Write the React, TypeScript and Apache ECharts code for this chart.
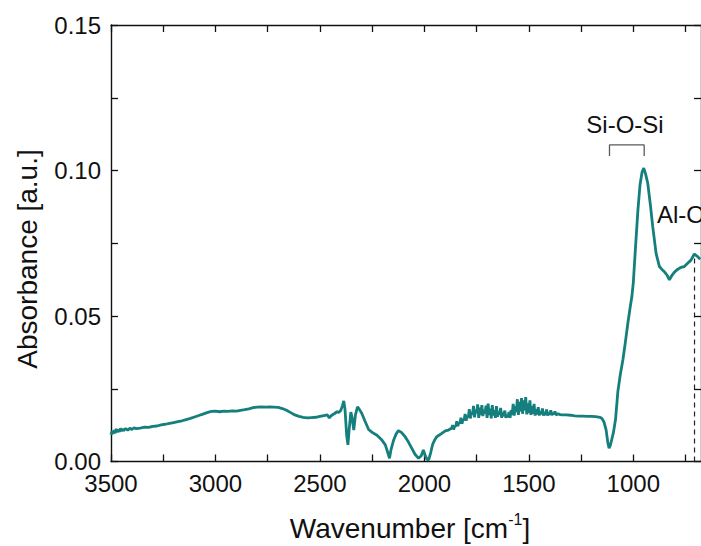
import { useEffect, useRef } from "react";
import * as echarts from "echarts";

// FTIR spectrum points: [wavenumber (cm-1), absorbance (a.u.)]
const spectrum: [number, number][] = [
  [3500, 0.0092], [3495, 0.0104], [3490, 0.0095], [3485, 0.0108], [3480, 0.0097], [3475, 0.0112],
  [3470, 0.0100], [3465, 0.0110], [3460, 0.0102], [3455, 0.0114], [3450, 0.0104], [3445, 0.0112],
  [3440, 0.0106], [3430, 0.0113], [3420, 0.0108], [3410, 0.0114], [3400, 0.0110], [3390, 0.0116],
  [3380, 0.0113], [3360, 0.0115], [3340, 0.0118], [3320, 0.0117], [3300, 0.0121], [3280, 0.0122],
  [3260, 0.0126], [3240, 0.0128], [3220, 0.0131], [3200, 0.0134], [3180, 0.0137], [3160, 0.0140],
  [3140, 0.0144], [3120, 0.0148], [3100, 0.0153], [3080, 0.0158], [3060, 0.0163], [3040, 0.0168],
  [3020, 0.0172], [3000, 0.0173], [2980, 0.0171], [2960, 0.0173], [2940, 0.0172], [2920, 0.0174],
  [2900, 0.0173], [2880, 0.0176], [2860, 0.0178], [2840, 0.0181], [2820, 0.0185], [2800, 0.0187],
  [2780, 0.0188], [2760, 0.0187], [2740, 0.0188], [2720, 0.0187], [2700, 0.0186], [2680, 0.0182],
  [2660, 0.0176], [2640, 0.0168], [2620, 0.0160], [2600, 0.0155], [2580, 0.0152], [2560, 0.0150],
  [2540, 0.0151], [2520, 0.0152], [2500, 0.0155], [2480, 0.0158], [2465, 0.0160], [2455, 0.0150],
  [2445, 0.0158], [2430, 0.0165], [2418, 0.0171], [2410, 0.0168], [2400, 0.0176], [2392, 0.0192],
  [2386, 0.0208], [2380, 0.0180], [2372, 0.0090], [2366, 0.0057], [2360, 0.0110], [2352, 0.0170],
  [2346, 0.0150], [2338, 0.0108], [2330, 0.0160], [2320, 0.0188], [2312, 0.0180], [2300, 0.0166],
  [2285, 0.0140], [2267, 0.0110], [2250, 0.0100], [2227, 0.0090], [2205, 0.0075], [2187, 0.0057],
  [2175, 0.0030], [2167, 0.0011], [2160, 0.0040], [2147, 0.0074], [2135, 0.0095], [2124, 0.0106],
  [2110, 0.0100], [2092, 0.0085], [2075, 0.0065], [2060, 0.0045], [2045, 0.0025], [2028, 0.0011],
  [2015, 0.0020], [2005, 0.0040], [1996, 0.0020], [1988, 0.0008], [1980, 0.0005], [1970, 0.0030],
  [1960, 0.0060], [1950, 0.0075], [1941, 0.0085], [1920, 0.0095], [1900, 0.0105], [1885, 0.0108],
  [1870, 0.0114], [1865, 0.0125], [1860, 0.0110], [1855, 0.0122], [1850, 0.0120], [1845, 0.0138],
  [1840, 0.0122], [1835, 0.0133], [1830, 0.0131], [1825, 0.0150], [1820, 0.0130], [1815, 0.0145],
  [1810, 0.0142], [1805, 0.0163], [1800, 0.0140], [1795, 0.0158], [1790, 0.0150], [1785, 0.0180],
  [1780, 0.0148], [1775, 0.0170], [1770, 0.0160], [1765, 0.0191], [1760, 0.0152], [1755, 0.0178],
  [1750, 0.0166], [1745, 0.0196], [1740, 0.0150], [1735, 0.0185], [1730, 0.0160], [1725, 0.0194],
  [1720, 0.0156], [1715, 0.0178], [1710, 0.0165], [1705, 0.0192], [1700, 0.0150], [1695, 0.0199],
  [1690, 0.0160], [1685, 0.0182], [1680, 0.0148], [1675, 0.0194], [1670, 0.0158], [1665, 0.0176],
  [1660, 0.0150], [1655, 0.0190], [1650, 0.0154], [1645, 0.0172], [1640, 0.0160], [1635, 0.0184],
  [1630, 0.0150], [1625, 0.0168], [1620, 0.0156], [1615, 0.0175], [1610, 0.0150], [1605, 0.0160],
  [1600, 0.0152], [1595, 0.0170], [1590, 0.0150], [1585, 0.0176], [1580, 0.0160], [1575, 0.0198],
  [1570, 0.0158], [1565, 0.0190], [1560, 0.0170], [1555, 0.0214], [1550, 0.0160], [1545, 0.0205],
  [1540, 0.0172], [1535, 0.0218], [1530, 0.0164], [1525, 0.0210], [1520, 0.0176], [1515, 0.0221],
  [1510, 0.0162], [1505, 0.0200], [1500, 0.0166], [1495, 0.0210], [1490, 0.0160], [1485, 0.0190],
  [1480, 0.0164], [1475, 0.0198], [1470, 0.0158], [1465, 0.0180], [1460, 0.0162], [1455, 0.0187],
  [1450, 0.0158], [1445, 0.0172], [1440, 0.0162], [1435, 0.0182], [1430, 0.0158], [1425, 0.0170],
  [1420, 0.0160], [1415, 0.0179], [1410, 0.0158], [1405, 0.0168], [1400, 0.0161], [1395, 0.0176],
  [1390, 0.0159], [1385, 0.0167], [1380, 0.0162], [1375, 0.0172], [1370, 0.0160], [1360, 0.0164],
  [1350, 0.0161], [1340, 0.0160], [1320, 0.0160], [1300, 0.0159], [1280, 0.0157], [1260, 0.0156],
  [1240, 0.0156], [1220, 0.0155], [1200, 0.0155], [1180, 0.0154], [1160, 0.0152], [1150, 0.0148],
  [1140, 0.0135], [1130, 0.0108], [1122, 0.0065], [1116, 0.0046], [1110, 0.0055], [1100, 0.0085],
  [1095, 0.0100], [1085, 0.0145], [1074, 0.0240], [1062, 0.0300], [1050, 0.0349], [1038, 0.0410],
  [1026, 0.0476], [1015, 0.0530], [1007, 0.0566], [1000, 0.0615], [990, 0.0730], [978, 0.0864],
  [968, 0.0950], [958, 0.0995], [950, 0.1008], [942, 0.0990], [931, 0.0957], [918, 0.0880],
  [907, 0.0807], [891, 0.0715], [875, 0.0670], [863, 0.0660], [851, 0.0652], [838, 0.0640],
  [827, 0.0624], [815, 0.0640], [804, 0.0650], [792, 0.0658], [780, 0.0664], [768, 0.0668],
  [756, 0.0670], [740, 0.0681], [724, 0.0692], [708, 0.0713], [692, 0.0704], [680, 0.0695],
];

// Axis ranges and tick positions
const xRange = [676, 3500];
const xTickValues = [3500, 3250, 3000, 2750, 2500, 2250, 2000, 1750, 1500, 1250, 1000, 750];
const xLabelValues = [3500, 3000, 2500, 2000, 1500, 1000];
const yRange = [0, 0.15];
const yTickValues = [0, 0.025, 0.05, 0.075, 0.1, 0.125, 0.15];
const yLabelValues = [0, 0.05, 0.1, 0.15];

// Band annotations
const siOSiBracketX = [1114, 948];
const siOSiBracketY = [0.105, 0.1088];
const alOMarkerX = 707;
const alOMarkerY = [0, 0.0705];

const FONT = "'Liberation Sans', Arial, Helvetica, sans-serif";
const LINE_COLOR = "#147f7c";
const AXIS_COLOR = "#111";

function makeXAxis(position: "bottom" | "top", showLabels: boolean) {
  return {
    type: "value",
    position,
    inverse: true,
    min: xRange[0],
    max: xRange[1],
    axisLine: { show: true, onZero: false, lineStyle: { color: AXIS_COLOR, width: 1.4 } },
    axisTick: {
      show: true,
      inside: true,
      length: 7,
      customValues: xTickValues,
      lineStyle: { color: AXIS_COLOR, width: 1.3 },
    },
    axisLabel: {
      show: showLabels,
      customValues: xLabelValues,
      margin: 10,
      fontSize: 24,
      fontFamily: FONT,
      color: AXIS_COLOR,
      formatter: (v: number) => String(v),
    },
    splitLine: { show: false },
  };
}

function makeYAxis(position: "left" | "right", showLabels: boolean) {
  return {
    type: "value",
    position,
    min: yRange[0],
    max: yRange[1],
    axisLine: { show: true, onZero: false, lineStyle: { color: AXIS_COLOR, width: 1.4 } },
    axisTick: {
      show: true,
      inside: true,
      length: 7,
      customValues: yTickValues,
      lineStyle: { color: AXIS_COLOR, width: 1.3 },
    },
    axisLabel: {
      show: showLabels,
      customValues: yLabelValues,
      margin: 10,
      fontSize: 24,
      fontFamily: FONT,
      color: AXIS_COLOR,
      formatter: (v: number) => v.toFixed(2),
    },
    splitLine: { show: false },
  };
}

export default function App() {
  const ref = useRef<HTMLDivElement>(null);

  useEffect(() => {
    if (!ref.current) return;
    const chart = echarts.init(ref.current, undefined, { renderer: "svg" });

    const bracket = [
      [siOSiBracketX[0], siOSiBracketY[0]],
      [siOSiBracketX[0], siOSiBracketY[1]],
      [siOSiBracketX[1], siOSiBracketY[1]],
      [siOSiBracketX[1], siOSiBracketY[0]],
    ];
    const alOLine = alOMarkerY.map((y) => [alOMarkerX, y]);

    chart.setOption({
      animation: false,
      backgroundColor: "#ffffff",
      grid: { left: 111, top: 25, right: -3, bottom: 84.5, containLabel: false },
      xAxis: [makeXAxis("bottom", true), makeXAxis("top", false)],
      yAxis: [makeYAxis("left", true), makeYAxis("right", false)],
      series: [
        {
          type: "line",
          data: spectrum,
          showSymbol: false,
          symbol: "none",
          lineStyle: { color: LINE_COLOR, width: 2.8 },
          z: 3,
        },
        {
          type: "line",
          data: bracket,
          showSymbol: false,
          symbol: "none",
          lineStyle: { color: "#5a5a5a", width: 1.3 },
          z: 2,
        },
        {
          type: "line",
          data: alOLine,
          showSymbol: false,
          symbol: "none",
          lineStyle: { color: "#222", width: 1.2, type: [5, 4] },
          z: 2,
        },
      ],
      graphic: [
        {
          type: "text",
          x: 625,
          y: 124,
          style: {
            text: "Si-O-Si",
            fontSize: 24,
            fontFamily: FONT,
            fill: "#111",
            align: "center",
            verticalAlign: "middle",
          },
        },
        {
          type: "text",
          x: 657,
          y: 214,
          style: {
            text: "Al-O",
            fontSize: 24,
            fontFamily: FONT,
            fill: "#111",
            align: "left",
            verticalAlign: "middle",
          },
        },
        {
          type: "text",
          x: 27,
          y: 259,
          rotation: Math.PI / 2,
          style: {
            text: "Absorbance [a.u.]",
            fontSize: 28,
            fontFamily: FONT,
            fill: "#111",
            align: "center",
            verticalAlign: "middle",
          },
        },
        {
          type: "text",
          x: 410,
          y: 526,
          style: {
            text: "{t|Wavenumber [cm}{s|-1}{t|]}",
            fontFamily: FONT,
            fill: "#111",
            align: "center",
            verticalAlign: "middle",
            rich: {
              t: { fontSize: 28, fontFamily: FONT, fill: "#111", lineHeight: 32, verticalAlign: "bottom" },
              s: { fontSize: 16, fontFamily: FONT, fill: "#111", lineHeight: 16, verticalAlign: "top", padding: [1, 0, 0, 0] },
            },
          },
        },
      ],
    });

    return () => chart.dispose();
  }, []);

  return (
    <div
      ref={ref}
      style={{ position: "absolute", left: 0, top: 0, width: 701, height: 546, background: "#fff" }}
    />
  );
}
